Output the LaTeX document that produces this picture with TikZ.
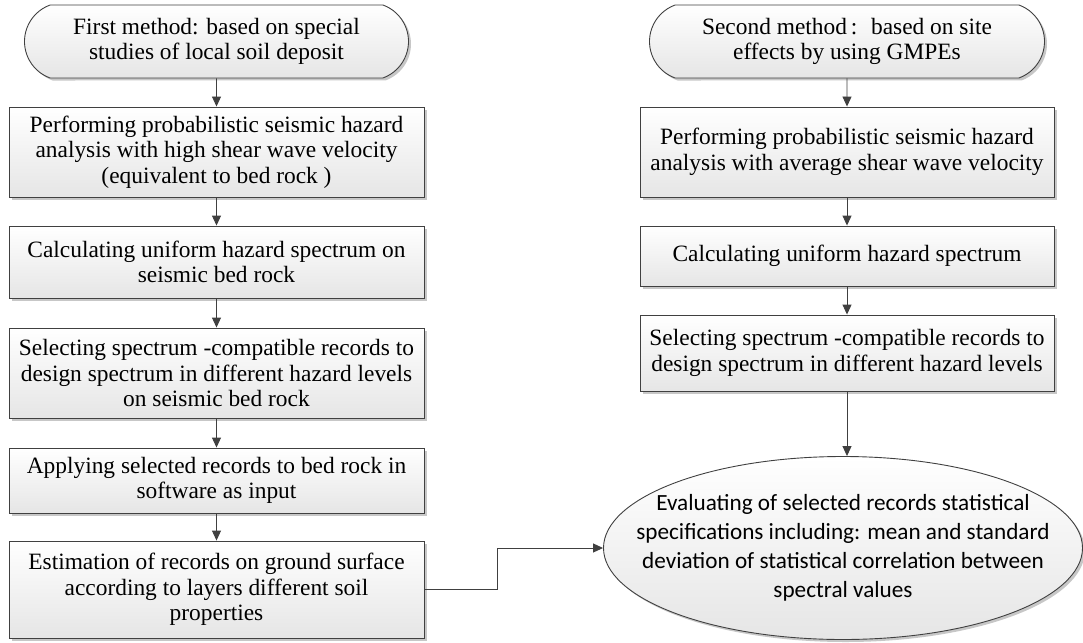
\documentclass[tikz,border=0pt]{standalone}
\usepackage{fontspec}
\setmainfont{Liberation Serif}
\newfontfamily\calibfont{Carlito}
\usetikzlibrary{shapes.misc,shapes.geometric,arrows.meta,shadows}
\begin{document}
\begin{tikzpicture}[x=1pt,y=-1pt,
  flow/.style={draw=black!75, line width=0.9pt, top color=white, bottom color=black!10,
    drop shadow={shadow xshift=2.5pt, shadow yshift=-2.5pt, fill=black!22, opacity=1},
    align=center, inner sep=0pt, font=\fontsize{23.4}{25.5}\selectfont},
  box/.style={flow, rectangle, minimum width=415pt},
  term/.style={flow, rounded rectangle, rounded rectangle arc length=140, minimum height=73pt},
  oval/.style={flow, ellipse, inner xsep=-50pt, inner ysep=0pt, minimum width=479pt, minimum height=183pt,
    font=\calibfont\fontsize{23.2}{29}\selectfont},
  conn/.style={draw=black!75, line width=0.9pt, -{Triangle[length=10pt,width=9pt]}}
]
\useasboundingbox (0,0) rectangle (1083,642);

% left column
\node[term, minimum width=384pt] (T1) at (216.5,41.5) {First method: based on special\\studies of local soil deposit};
\node[box, minimum height=90pt] (B1) at (216.5,152) {Performing probabilistic seismic hazard\\analysis with high shear wave velocity\\(equivalent to bed rock )};
\node[box, minimum height=72pt] (B2) at (216.5,262) {Calculating uniform hazard spectrum on\\seismic bed rock};
\node[box, minimum height=90pt] (B3) at (216.5,373) {Selecting spectrum -compatible records to\\design spectrum in different hazard levels\\on seismic bed rock};
\node[box, minimum height=65pt] (B4) at (216.5,480.5) {Applying selected records to bed rock in\\software as input};
\node[box, minimum height=97pt] (B5) at (216.5,589.5) {Estimation of records on ground surface\\according to layers different soil\\properties};

% right column
\node[term, minimum width=395pt] (T2) at (847,41.5) {Second method\,:~ based on site\\effects by using GMPEs};
\node[box, minimum width=414pt, minimum height=90pt] (R1) at (847,152) {Performing probabilistic seismic hazard\\analysis with average shear wave velocity};
\node[box, minimum width=414pt, minimum height=60pt] (R2) at (847,256) {Calculating uniform hazard spectrum};
\node[box, minimum width=414pt, minimum height=76pt] (R3) at (847,353) {Selecting spectrum -compatible records to\\design spectrum in different hazard levels};

\node[oval] (E) at (843,548) {Evaluating of selected records statistical\\specifications including: mean and standard\\deviation of statistical correlation between\\spectral values};

\coordinate (bend) at (497,548);

% connectors
\draw[conn] (T1) -- (B1);
\draw[conn] (B1) -- (B2);
\draw[conn] (B2) -- (B3);
\draw[conn] (B3) -- (B4);
\draw[conn] (B4) -- (B5);
\draw[conn] (T2) -- (R1);
\draw[conn] (R1) -- (R2);
\draw[conn] (R2) -- (R3);
\draw[conn] (R3.south) -- (R3.south |- E.north);
\draw[conn] (B5.east) -- (B5.east -| bend) -- (bend) -- (E.west);
\end{tikzpicture}
\end{document}
